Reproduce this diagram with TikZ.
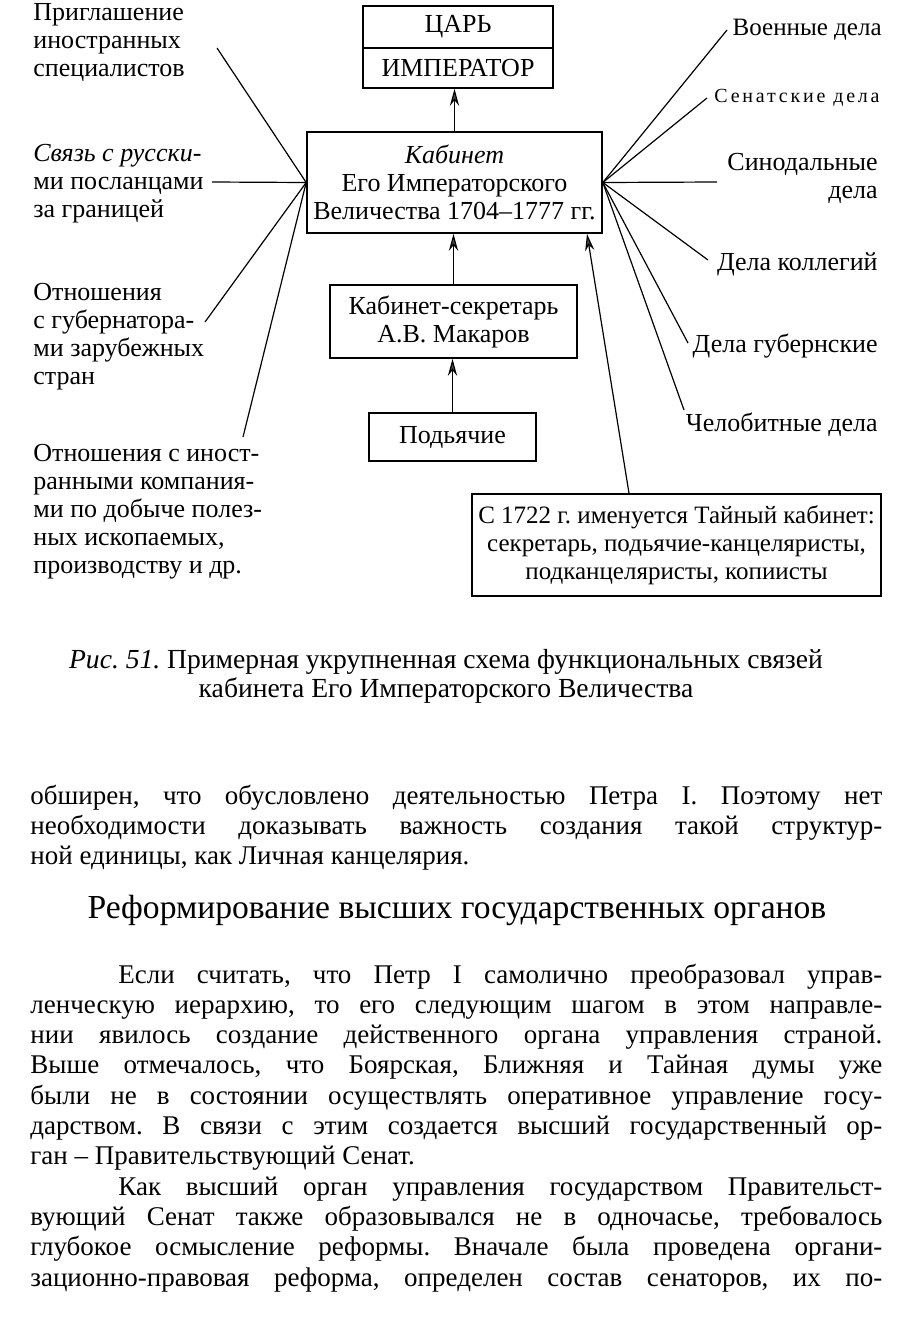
\documentclass[tikz,border=0pt]{standalone}
\usepackage{fontspec}
\setmainfont{Liberation Serif}
\usetikzlibrary{arrows.meta,calc,positioning}
\frenchspacing

\begin{document}
\begin{tikzpicture}[x=0.5pt,y=-0.5pt,>={Stealth[length=8.5pt,width=4.6pt,fill=black!70]},
  font=\fontsize{13}{14}\selectfont,
  box/.style={draw,line width=0.8pt,inner sep=0pt,align=center},
  ray/.style={line width=0.6pt},
  up/.style={->,line width=0.6pt},
  lab/.style={inner sep=0pt,align=left,anchor=base west},
  rlab/.style={inner sep=0pt,align=right,anchor=base east},
  para/.style={inner sep=0pt,anchor=base west,text width=426pt,align=justify,
    font=\fontsize{13.5}{15.15}\selectfont,
    execute at begin node={\tolerance=10000\hyphenpenalty=10000\frenchspacing\relax}}]
\fill[white] (0,0) rectangle (896,1328);
\useasboundingbox (0,0) rectangle (896,1328);

% top of the chain
\node[box,minimum width=95pt,minimum height=21pt] (tsar) at (458,27) {ЦАРЬ};
\node[box,minimum width=95pt,minimum height=20pt] (imp) at (458,68) {ИМПЕРАТОР};
\node[box,minimum width=147.5pt,minimum height=50.5pt] (kab) at (454.5,182.5)
  {\textit{Кабинет}\\Его Императорского\\Величества 1704–1777 гг.};
\node[box,minimum width=123.5pt,minimum height=36.5pt] (sec) at (453.5,321.5)
  {Кабинет-секретарь\\А.В. Макаров};
\node[box,minimum width=83.5pt,minimum height=24pt] (pod) at (452.5,437) {Подьячие};
\node[box,minimum width=204.5pt,minimum height=51pt,font=\fontsize{12.5}{14}\selectfont] (secret) at (676.5,545)
  {С 1722 г. именуется Тайный кабинет:\\секретарь, подьячие-канцеляристы,\\подканцеляристы, копиисты};

\draw[up] (kab.north) -- (kab.north |- imp.south);
\draw[up] (sec.north) -- (sec.north |- kab.south);
\draw[up] (pod.north) -- (pod.north |- sec.south);
\draw[up] ([xshift=-23.75pt]secret.north) -- ([xshift=66.25pt]kab.south);

% functions on the left
\node[lab] (l1) at (33,76) {Приглашение\\иностранных\\специалистов};
\node[lab] (l2) at (33,217) {\textit{Связь с русски-}\\ми посланцами\\за границей};
\node[lab] (l3) at (33,384) {Отношения\\с губернатора-\\ми зарубежных\\стран};
\node[lab] (l4) at (33,573) {Отношения с иност-\\ранными компания-\\ми по добыче полез-\\ных ископаемых,\\производству и др.};
\coordinate (e1) at (217,48);
\coordinate (e2) at (212,182);
\coordinate (e3) at (205,322);
\coordinate (e4) at (243,437);
\foreach \c in {e1,e2,e3,e4}
  \draw[ray] (kab.west) -- (\c);

% affairs on the right
\node[rlab,font=\fontsize{12.5}{14}\selectfont] (r1) at (882,35) {Военные дела};
\node[rlab,font=\fontsize{10}{12}\selectfont\addfontfeature{LetterSpace=14}] (r2) at (880,102) {Сенатские дела};
\node[rlab] (r3) at (878,198) {Синодальные\\дела};
\node[rlab] (r4) at (878,270) {Дела коллегий};
\node[rlab] (r5) at (878,352) {Дела губернские};
\node[rlab] (r6) at (878,431) {Челобитные дела};
\coordinate (w1) at (727,30);
\coordinate (w2) at (707,98);
\coordinate (w3) at (717,182);
\coordinate (w4) at (708,260);
\coordinate (w5) at (688,343);
\coordinate (w6) at (684,410);
\foreach \c in {w1,w2,w3,w4,w5,w6}
  \draw[ray] (kab.east) -- (\c);

% caption and page text
\node[inner sep=0pt,align=center,anchor=base,font=\fontsize{13.8}{14.5}\selectfont] (cap) at (446,697)
  {\textit{Рис. 51.} Примерная укрупненная схема функциональных связей\\кабинета Его Императорского Величества};
\node[para] (p1) at (30,804) {обширен, что обусловлено деятельностью Петра I. Поэтому нет\linebreak
  необходимости доказывать важность создания такой структур-\linebreak
  ной единицы, как Личная канцелярия.};
\node[inner sep=0pt,anchor=base,font=\fontsize{16.8}{18}\selectfont] (head) at (457,918)
  {Реформирование высших государственных органов};
\node[para] (p2) at (30,983) {\hspace*{44pt}Если считать, что Петр I самолично преобразовал управ-\linebreak
  ленческую иерархию, то его следующим шагом в этом направле-\linebreak
  нии явилось создание действенного органа управления страной.\linebreak
  Выше отмечалось, что Боярская, Ближняя и Тайная думы уже\linebreak
  были не в состоянии осуществлять оперативное управление госу-\linebreak
  дарством. В связи с этим создается высший государственный ор-\linebreak
  ган – Правительствующий Сенат.\par
  \hspace*{44pt}Как высший орган управления государством Правительст-\linebreak
  вующий Сенат также образовывался не в одночасье, требовалось\linebreak
  глубокое осмысление реформы. Вначале была проведена органи-\linebreak
  зационно-правовая реформа, определен состав сенаторов, их по-\parfillskip=0pt\par};
\end{tikzpicture}
\end{document}
